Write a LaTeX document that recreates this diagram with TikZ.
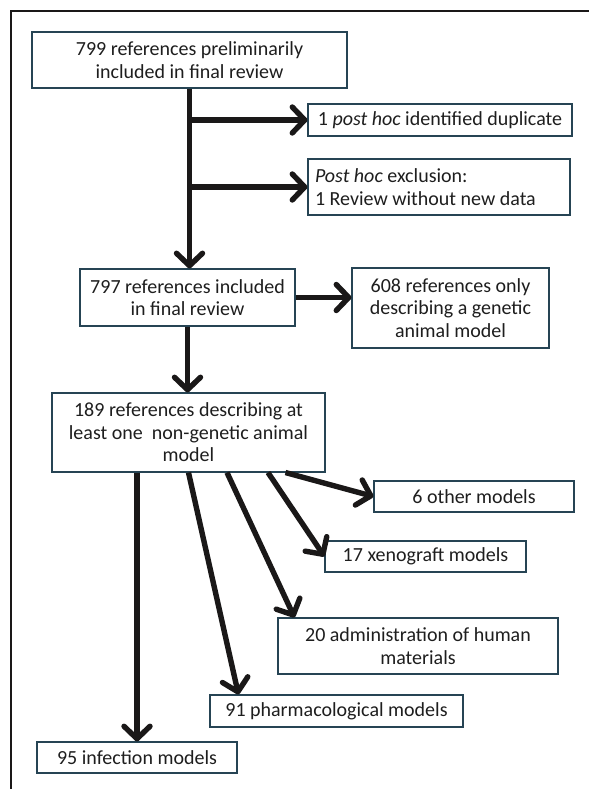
\documentclass[tikz,border=0pt]{standalone}
\usepackage{fontspec}
\setmainfont{Carlito}
\usetikzlibrary{arrows.meta,calc}
\definecolor{boxc}{RGB}{38,68,84}
\definecolor{txtc}{RGB}{30,30,30}
\definecolor{arrc}{RGB}{26,24,24}
\begin{document}
\begin{tikzpicture}[x=1pt,y=-1pt,
  box/.style={draw=boxc, line width=1.1pt, fill=white, inner sep=0pt, align=center,
    font=\fontsize{20}{22.5}\selectfont, text=txtc},
  arr/.style={draw=arrc, line width=5.4pt, -{Straight Barb[length=12.5pt,width=26pt,round]}}]
\useasboundingbox (0,0) rectangle (589,789);
\draw[line width=2pt, arrc] (11,789) -- (11,11) -- (589,11);

\node[box, minimum width=315pt, minimum height=56pt] (b1) at (189.5,60) {799 references preliminarily\\included in final review};
\node[box, minimum width=264pt, minimum height=32pt] (dup) at (440,120) {1 \textit{post hoc} identified duplicate};
\node[box, minimum width=262pt, minimum height=56pt, align=flush left, text width=248pt] (excl) at (439,187) {\textit{Post hoc} exclusion:\\1 Review without new data};
\node[box, minimum width=215pt, minimum height=57pt] (b2) at (187.5,297.5) {797 references included\\in final review};
\node[box, minimum width=197pt, minimum height=80pt] (gen) at (450.5,308) {608 references only\\describing a genetic\\animal model};
\node[box, minimum width=273pt, minimum height=79pt] (b3) at (188.5,432.5) {189 references describing at\\least one\ \ non-genetic animal\\model};
\node[box, minimum width=200pt, minimum height=31pt] (other) at (474,496.5) {6 other models};
\node[box, minimum width=201pt, minimum height=31pt] (xeno) at (425.5,556.5) {17 xenograft models};
\node[box, minimum width=280pt, minimum height=56pt] (admin) at (418,646) {20 administration of human\\materials};
\node[box, minimum width=253pt, minimum height=32pt] (pharm) at (336.5,711) {91 pharmacological models};
\node[box, minimum width=200pt, minimum height=31pt] (inf) at (137,757.5) {95 infection models};

\coordinate (j1) at (b1.south |- dup.west);
\coordinate (j2) at (b1.south |- excl.west);
\draw[arr] (b1.south) -- (b1.south |- b2.north);
\draw[arr] (j1) -- (dup.west);
\draw[arr] (j2) -- (excl.west);
\draw[arr] (b2.east) -- (b2.east -| gen.west);
\draw[arr] (b2.south) -- (b2.south |- b3.north);

\draw[arr] (b3.south -| inf.north) -- (inf.north);
\draw[arr] (b3.south) -- ($(pharm.north west)+(29,0)$);
\draw[arr] ($(b3.south)+(38.5,0)$) -- ($(admin.north west)+(17,0)$);
\draw[arr] ($(b3.south)+(79.5,0)$) -- (xeno.west);
\draw[arr] ($(b3.south)+(97,0)$) -- (other.west);
\end{tikzpicture}
\end{document}
